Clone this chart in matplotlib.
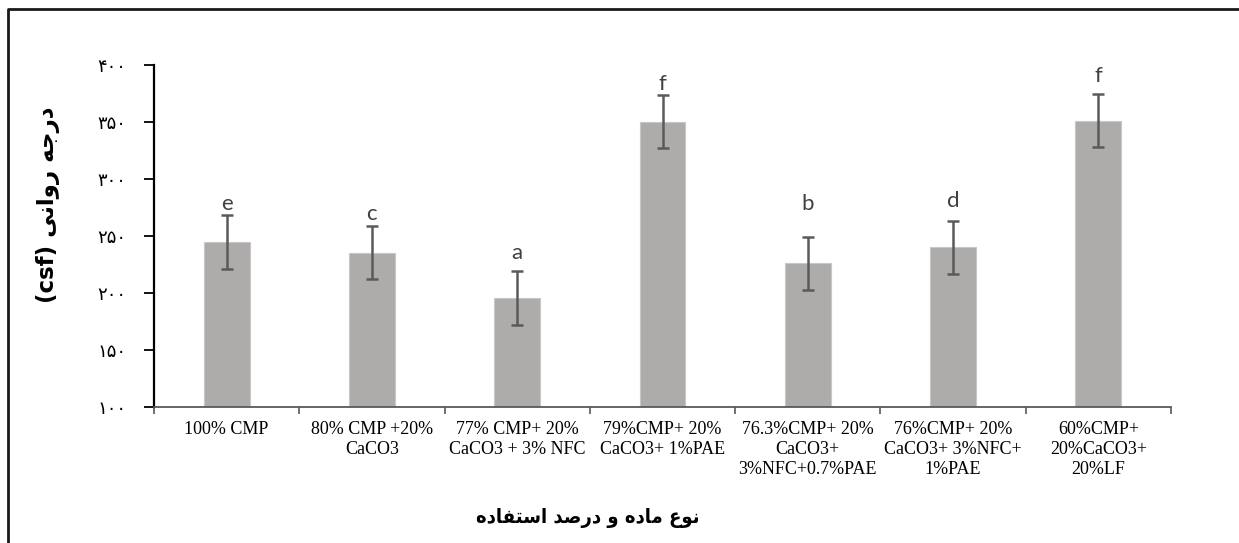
import matplotlib
matplotlib.use("Agg")
import matplotlib.pyplot as plt
import numpy as np

# ---------------- data ----------------
categories = [
    "100% CMP",
    "80% CMP +20%\nCaCO3",
    "77% CMP+ 20%\nCaCO3 + 3% NFC",
    "79%CMP+ 20%\nCaCO3+ 1%PAE",
    "76.3%CMP+ 20%\nCaCO3+\n3%NFC+0.7%PAE",
    "76%CMP+ 20%\nCaCO3+ 3%NFC+\n1%PAE",
    "60%CMP+\n20%CaCO3+\n20%LF",
]
values = [244.7, 235.1, 195.1, 350.0, 225.8, 239.8, 350.9]
errors = [23.5, 23.4, 23.5, 23.5, 23.4, 23.3, 23.5]
letters = ["e", "c", "a", "f", "b", "d", "f"]
letter_y = [277.6, 269.4, 234.4, 383.4, 278.2, 280.2, 389.8]
yticks = [100, 150, 200, 250, 300, 350, 400]
ylabel_fa = "درجه روانی"
ylabel_lat = "(csf)"
xlabel_fa = "نوع ماده و درصد استفاده"

# ------------- simple Persian shaping (presentation forms + visual order) -------------
FORMS = {
    '\u0627': ('\uFE8D', '\uFE8E', None, None),
    '\u062F': ('\uFEA9', '\uFEAA', None, None),
    '\u0631': ('\uFEAD', '\uFEAE', None, None),
    '\u0648': ('\uFEED', '\uFEEE', None, None),
    '\u062C': ('\uFE9D', '\uFE9E', '\uFE9F', '\uFEA0'),
    '\u0647': ('\uFEE9', '\uFEEA', '\uFEEB', '\uFEEC'),
    '\u0646': ('\uFEE5', '\uFEE6', '\uFEE7', '\uFEE8'),
    '\u06CC': ('\uFBFC', '\uFBFD', '\uFBFE', '\uFBFF'),
    '\u064A': ('\uFBFC', '\uFBFD', '\uFBFE', '\uFBFF'),
    '\u0649': ('\uFBFC', '\uFBFD', '\uFBFE', '\uFBFF'),
    '\u0639': ('\uFEC9', '\uFECA', '\uFECB', '\uFECC'),
    '\u0645': ('\uFEE1', '\uFEE2', '\uFEE3', '\uFEE4'),
    '\u0635': ('\uFEB9', '\uFEBA', '\uFEBB', '\uFEBC'),
    '\u0633': ('\uFEB1', '\uFEB2', '\uFEB3', '\uFEB4'),
    '\u062A': ('\uFE95', '\uFE96', '\uFE97', '\uFE98'),
    '\u0641': ('\uFED1', '\uFED2', '\uFED3', '\uFED4'),
}


def shape(s):
    out = []
    for i, ch in enumerate(s):
        f = FORMS.get(ch)
        if f is None:
            out.append(ch)
            continue
        prev = s[i - 1] if i > 0 else ''
        nxt = s[i + 1] if i + 1 < len(s) else ''
        pj = prev in FORMS and FORMS[prev][2] is not None
        nj = (nxt in FORMS) and (f[2] is not None)
        if pj and nj:
            out.append(f[3])
        elif pj:
            out.append(f[1])
        elif nj:
            out.append(f[2])
        else:
            out.append(f[0])
    return ''.join(out)[::-1]


def fa_digits(v):
    return str(int(v)).translate(str.maketrans("0123456789", "۰۱۲۳۴۵۶۷۸۹"))


# ---------------- figure ----------------
W, H = 1239, 543
fig = plt.figure(figsize=(W / 100, H / 100), dpi=100)
ax = fig.add_axes([154 / W, 1 - 406.7 / H, (1171 - 154) / W, (406.7 - 64.7) / H])

x = np.arange(len(categories))
ax.bar(x, values, width=0.315, color="#AEABAB", edgecolor="#C9C7C7", linewidth=0.8, zorder=2)
ax.errorbar(x, values, yerr=errors, fmt="none", ecolor="#5A5A5A", elinewidth=1.8,
            capsize=4.5, capthick=1.8, zorder=3)
for xi, lt, ly in zip(x, letters, letter_y):
    ax.text(xi, ly, lt, ha="center", va="center", fontsize=16, family="Lato", color="#404040")

ax.set_xlim(-0.5, len(categories) - 0.5)
ax.set_ylim(yticks[0], yticks[-1])
ax.set_yticks(yticks)
ax.set_yticklabels([fa_digits(v) for v in yticks], family="DejaVu Sans", fontsize=13)
ax.tick_params(axis="y", direction="out", length=7, width=1.3, color="#000000", pad=13)

ax.set_xticks(x)
ax.set_xticklabels(categories, family="Liberation Serif", fontsize=13, linespacing=1.24)
ax.tick_params(axis="x", which="major", length=0, pad=10)
ax.set_xticks(np.arange(-0.5, len(categories), 1.0), minor=True)
ax.tick_params(axis="x", which="minor", direction="out", length=5, width=1.2, color="#595959")

for s in ["top", "right"]:
    ax.spines[s].set_visible(False)
ax.spines["left"].set_color("#000000")
ax.spines["left"].set_linewidth(1.6)
ax.spines["bottom"].set_color("#595959")
ax.spines["bottom"].set_linewidth(1.3)

# axis titles
fig.text(48 / W, 1 - 205 / H, ylabel_lat + " " + shape(ylabel_fa), rotation=90,
         ha="center", va="center", fontsize=16.5, fontweight="bold", family="DejaVu Sans")
fig.text(588 / W, 1 - 518 / H, shape(xlabel_fa), ha="center", va="center",
         fontsize=14.5, fontweight="bold", family="DejaVu Sans", fontstretch="condensed")

# outer frame (left and top edges visible)
fig.add_artist(plt.Line2D([8 / W, 8 / W, 1.0], [0.0, 1 - 9 / H, 1 - 9 / H],
                          transform=fig.transFigure, color="#1A1A1A", linewidth=2.0))

fig.savefig("out.png", dpi=100)
